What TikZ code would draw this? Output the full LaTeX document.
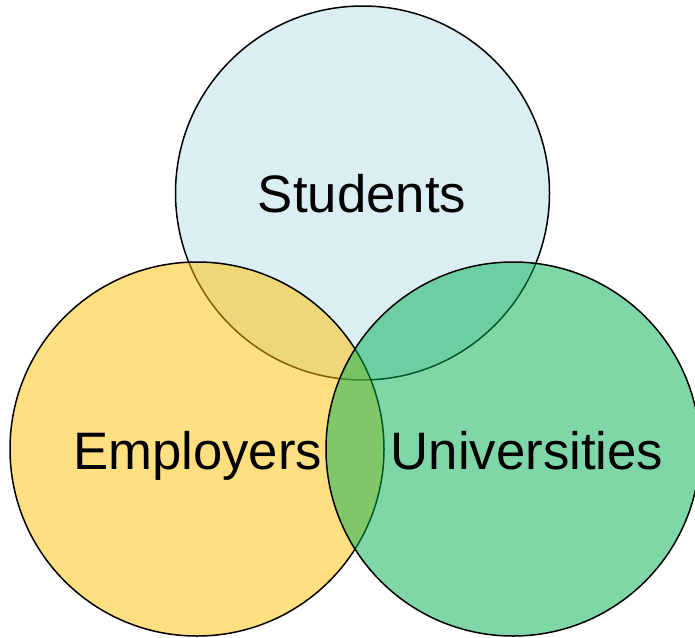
\documentclass[tikz,border=0pt]{standalone}
\usepackage{fontspec}
\setmainfont{Liberation Sans}
\definecolor{stucol}{HTML}{B7DEE8}
\definecolor{empcol}{HTML}{FFC000}
\definecolor{unicol}{HTML}{00B050}
\begin{document}
\begin{tikzpicture}[x=1pt,y=-1pt,
  venn/.style={circle,draw=black,line width=1.5pt,fill opacity=0.5,minimum size=374pt,inner sep=0pt},
  lbl/.style={anchor=base,inner sep=0pt,font=\fontsize{52.7}{60}\selectfont}]
\useasboundingbox (0,0) rectangle (695,637);
\clip (0,0) rectangle (695,637);
\node[venn,fill=stucol] (stu) at (362.5,193) {};
\node[venn,fill=empcol] (emp) at (197,449) {};
\node[venn,fill=unicol] (uni) at (513,449) {};
\node[lbl] (tstu) at (362,212) {Students};
\node[lbl] (temp) at (197.5,469) {Employers};
\node[lbl] (tuni) at (527,469) {Universities};
\end{tikzpicture}
\end{document}
